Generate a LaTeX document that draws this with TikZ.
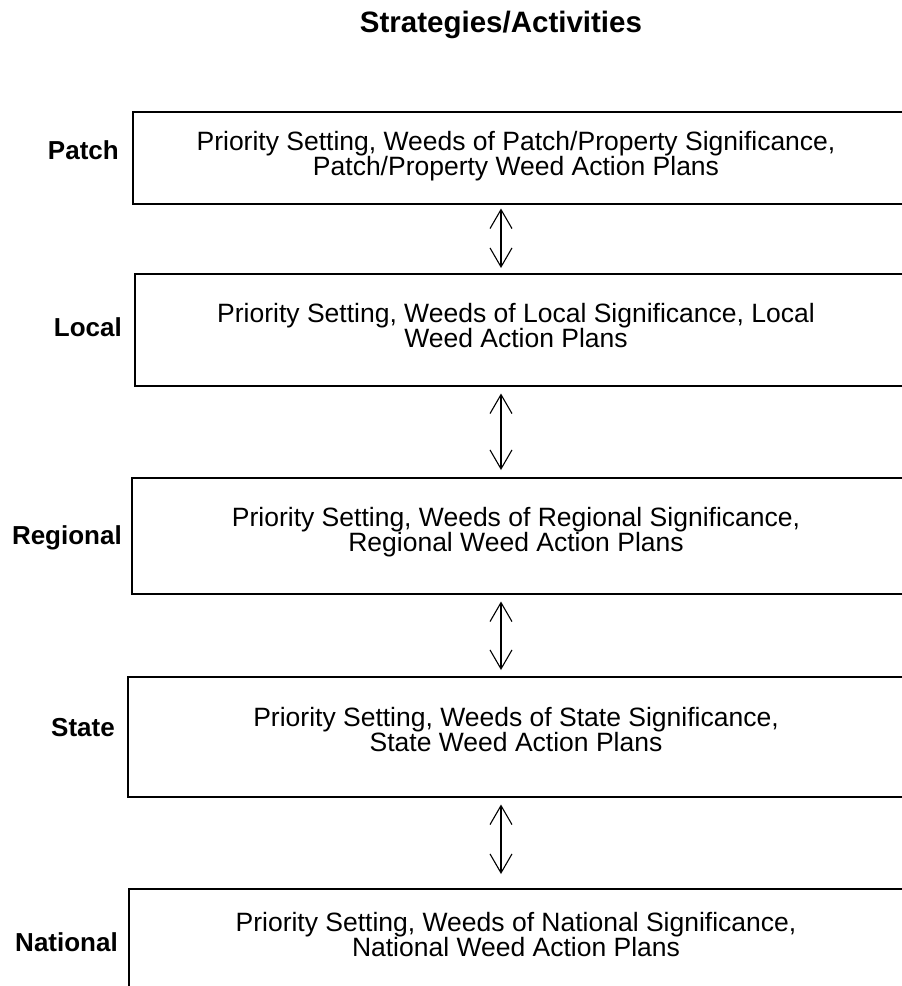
\documentclass[tikz,border=0pt]{standalone}
\usepackage{fontspec}
\setmainfont{Liberation Sans}
\usetikzlibrary{arrows.meta}

\tikzset{
  levelbox/.style={draw, line width=1.5pt, rectangle, inner sep=0pt, anchor=north west},
  bodytext/.style={inner sep=0pt, anchor=base, font=\fontsize{26.5}{25}\selectfont},
  leveltag/.style={inner sep=0pt, anchor=base east, font=\bfseries\fontsize{26}{26}\selectfont},
  headtext/.style={inner sep=0pt, anchor=base, font=\bfseries\fontsize{29.5}{30}\selectfont},
  biarrow/.style={line width=1.1pt, {Straight Barb[length=19pt,width=22pt]}-{Straight Barb[length=19pt,width=22pt]}}
}

\begin{document}
\begin{tikzpicture}[x=1pt, y=-1pt]
  \clip (0,0) rectangle (902,986);
  \fill[white] (0,0) rectangle (902,986);

  % heading
  \node[headtext] (head) at (501,32) {Strategies/Activities};

  % level boxes (open to the right and, for the last one, to the bottom)
  \node[levelbox, minimum width=780pt, minimum height=92pt]  (patch)    at (132,111) {};
  \node[levelbox, minimum width=780pt, minimum height=112pt] (local)    at (134,273) {};
  \node[levelbox, minimum width=780pt, minimum height=116pt] (regional) at (131,477) {};
  \node[levelbox, minimum width=780pt, minimum height=120pt] (state)    at (127,676) {};
  \node[levelbox, minimum width=780pt, minimum height=130pt] (national) at (128,888) {};

  % level names
  \node[leveltag] (patchL)    at (119,159) {Patch};
  \node[leveltag] (localL)    at (122,336) {Local};
  \node[leveltag] (regionalL) at (122,544) {Regional};
  \node[leveltag] (stateL)    at (115,736) {State};
  \node[leveltag] (nationalL) at (118,951) {National};

  % box contents
  \node[bodytext] (patchA)    at (516,150) {Priority Setting, Weeds of Patch/Property Significance,};
  \node[bodytext] (patchB)    at (516,175) {Patch/Property Weed Action Plans};
  \node[bodytext] (localA)    at (516,322) {Priority Setting, Weeds of Local Significance, Local};
  \node[bodytext] (localB)    at (516,347) {Weed Action Plans};
  \node[bodytext] (regionalA) at (516,526) {Priority Setting, Weeds of Regional Significance,};
  \node[bodytext] (regionalB) at (516,551) {Regional Weed Action Plans};
  \node[bodytext] (stateA)    at (516,726) {Priority Setting, Weeds of State Significance,};
  \node[bodytext] (stateB)    at (516,751) {State Weed Action Plans};
  \node[bodytext] (nationalA) at (516,931) {Priority Setting, Weeds of National Significance,};
  \node[bodytext] (nationalB) at (516,956) {National Weed Action Plans};

  % two-way links between neighbouring levels
  \coordinate (ax) at (501,0);
  \draw[biarrow, shorten <=4pt, shorten >=5pt] (patch.south -| ax) -- (local.north -| ax);
  \draw[biarrow, shorten <=7pt, shorten >=7pt] (local.south -| ax) -- (regional.north -| ax);
  \draw[biarrow, shorten <=7pt, shorten >=6pt] (regional.south -| ax) -- (state.north -| ax);
  \draw[biarrow, shorten <=7pt, shorten >=14pt] (state.south -| ax) -- (national.north -| ax);
\end{tikzpicture}
\end{document}
